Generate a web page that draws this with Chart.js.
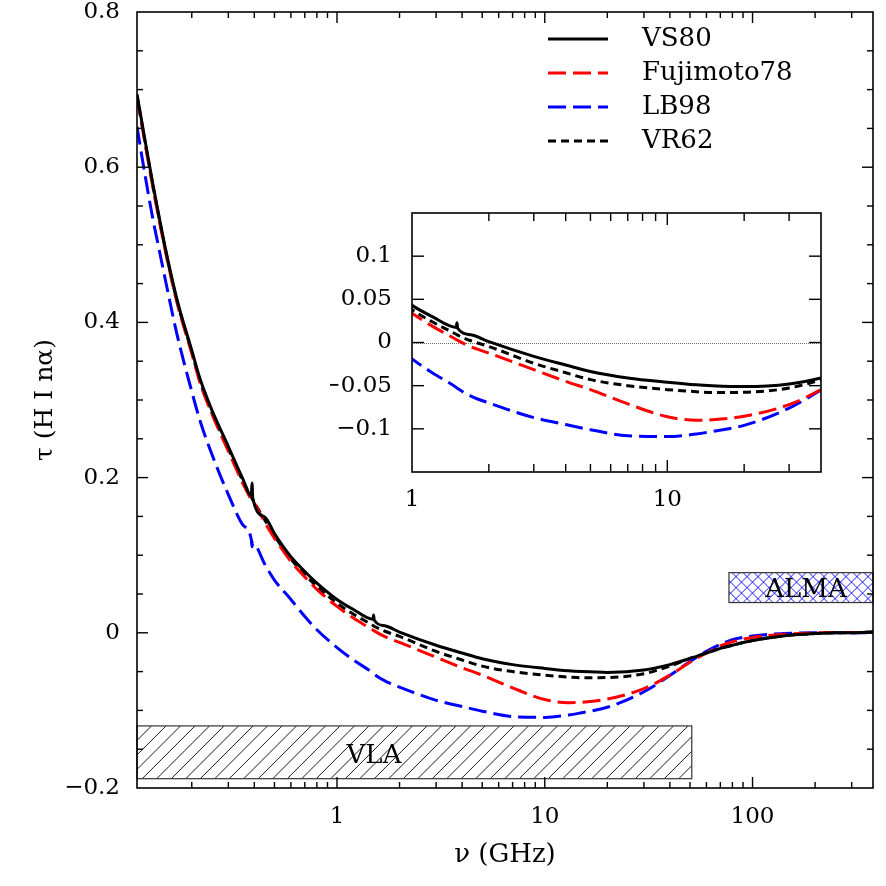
<!DOCTYPE html>
<html>
<head>
<meta charset="utf-8">
<script src="https://cdn.jsdelivr.net/npm/chart.js@4.4.1/dist/chart.umd.min.js"></script>
<style>
    body { margin: 0; background: #fff; }
    #wrap { position: relative; width: 886px; height: 886px; }
    #main { position: absolute; left: 0; top: 0; }
    #inset { position: absolute; left: 330px; top: 200px; }
</style>
</head>
<body>
<div id="wrap">
    <canvas id="main" width="886" height="886"></canvas>
    <canvas id="inset" width="500" height="320"></canvas>
</div>
<script>
// frequencies in GHz, shared by all curves
const freq = [0.109, 0.12, 0.13, 0.14, 0.15, 0.17, 0.2, 0.22, 0.25, 0.3,
    0.35, 0.387, 0.39, 0.393, 0.45, 0.5, 0.6, 0.7, 0.8, 1,
    1.2, 1.49, 1.5, 1.51, 1.7, 2, 3, 4, 5, 7,
    10, 13, 15, 20, 30, 40, 50, 60, 70, 80,
    100, 140, 200, 250, 300, 380];

const vs80 = [0.694, 0.630, 0.578, 0.533, 0.493, 0.429, 0.364, 0.326, 0.287, 0.240,
    0.200, 0.177, 0.193, 0.174, 0.149, 0.128, 0.098, 0.079, 0.064, 0.043,
    0.030, 0.0175, 0.023, 0.0165, 0.009, 0.001, -0.016, -0.026, -0.0335, -0.041,
    -0.046, -0.049, -0.050, -0.051, -0.048, -0.041, -0.033, -0.026, -0.020, -0.016,
    -0.010, -0.004, -0.001, 0, 0, 0.001];

const fujimoto78 = [0.690, 0.626, 0.574, 0.529, 0.489, 0.425, 0.360, 0.321, 0.282, 0.234,
    0.194, 0.1715, 0.170, 0.1695, 0.142, 0.122, 0.092, 0.072, 0.056, 0.034,
    0.019, 0.0035, 0.003, 0.0025, -0.005, -0.0123, -0.0315, -0.045, -0.0546, -0.071,
    -0.086, -0.090, -0.0895, -0.0854, -0.072, -0.0546, -0.038, -0.026, -0.017, -0.0116,
    -0.006, -0.002, 0, 0.0005, 0.0005, 0.0005];

const lb98 = [0.652, 0.585, 0.533, 0.491, 0.452, 0.384, 0.311, 0.272, 0.230, 0.178,
    0.140, 0.120, 0.111, 0.116, 0.088, 0.068, 0.043, 0.021, 0.004, -0.019,
    -0.035, -0.052, -0.0527, -0.0534, -0.062, -0.070, -0.087, -0.095, -0.101, -0.108,
    -0.109, -0.106, -0.103, -0.096, -0.076, -0.055, -0.037, -0.024, -0.015, -0.009,
    -0.004, -0.001, 0, 0, 0, 0];

const vr62 = [0.692, 0.628, 0.576, 0.531, 0.491, 0.427, 0.362, 0.323, 0.284, 0.237,
    0.197, 0.1745, 0.173, 0.1715, 0.145, 0.125, 0.095, 0.075, 0.060, 0.038,
    0.024, 0.0095, 0.009, 0.0085, 0.002, -0.0046, -0.024, -0.035, -0.043, -0.050,
    -0.0546, -0.057, -0.058, -0.0577, -0.0527, -0.043, -0.033, -0.026, -0.020, -0.016,
    -0.010, -0.004, -0.001, 0, 0, 0.001];

const seriesNames = ['VS80', 'Fujimoto78', 'LB98', 'VR62'];
const xMajorLabels = [1, 10, 100];

// observing bands: [freq from, freq to], [tau from, tau to]
const vlaFreq = [0.109, 51];
const vlaTau = [-0.188, -0.12];
const almaFreq = [77, 380];
const almaTau = [0.039, 0.0775];

const FONT = "'DejaVu Serif', serif";

function isPow10(v) {
    const l = Math.log10(v);
    return Math.abs(l - Math.round(l)) < 1e-6;
}

function minus(s) {
    return s.replace('-', '\u2212');
}

function logTicks(min, max) {
    const out = [];
    for (let e = -2; e <= 3; e++) {
        for (let m = 1; m <= 9; m++) {
            const v = +(m * Math.pow(10, e)).toPrecision(3);
            if (v >= min && v <= max) out.push({ value: v });
        }
    }
    return out;
}

function makeDatasets() {
    const pts = arr => freq.map((f, i) => ({ x: f, y: arr[i] }));
    return [
        { label: seriesNames[0], data: pts(vs80), borderColor: '#000', borderWidth: 3 },
        { label: seriesNames[1], data: pts(fujimoto78), borderColor: '#ff0000', borderWidth: 3, borderDash: [18, 7] },
        { label: seriesNames[2], data: pts(lb98), borderColor: '#0000ff', borderWidth: 3, borderDash: [18, 7] },
        { label: seriesNames[3], data: pts(vr62), borderColor: '#000', borderWidth: 3, borderDash: [8, 5] }
    ].map(d => Object.assign(d, { showLine: true, pointRadius: 0, cubicInterpolationMode: 'monotone', fill: false }));
}

// no extra room for end labels, plot box is set by hand
function fixBox(size, key) {
    return s => {
        s[key] = size;
        s.paddingTop = 0; s.paddingBottom = 0;
        s.paddingLeft = 0; s.paddingRight = 0;
    };
}

// box with ticks pointing inward on all four sides
const frameTicks = {
    id: 'frameTicks',
    afterDraw(chart) {
        const opts = chart.options.plugins.frameTicks || {};
        const major = opts.major || 11, minor = opts.minor || 6;
        const { ctx, chartArea: a, scales } = chart;
        const x = scales.x, y = scales.y;
        const w = 1.4;
        ctx.save();
        ctx.fillStyle = '#000';
        x.ticks.forEach(t => {
            const px = x.getPixelForValue(t.value);
            if (!(px > a.left + 1 && px < a.right - 1)) return;
            const len = isPow10(t.value) ? major : minor;
            ctx.fillRect(px - w / 2, a.bottom - len, w, len);
            ctx.fillRect(px - w / 2, a.top, w, len);
        });
        y.ticks.forEach(t => {
            const py = y.getPixelForValue(t.value);
            if (!(py > a.top + 1 && py < a.bottom - 1)) return;
            const len = t.label ? major : minor;
            ctx.fillRect(a.left, py - w / 2, len, w);
            ctx.fillRect(a.right - len, py - w / 2, len, w);
        });
        ctx.strokeStyle = '#000';
        ctx.lineWidth = 1.6;
        ctx.strokeRect(a.left, a.top, a.right - a.left, a.bottom - a.top);
        ctx.restore();
    }
};

function hatch(ctx, x0, y0, x1, y1, step, dirs) {
    const h = y1 - y0;
    ctx.save();
    ctx.beginPath();
    ctx.rect(x0, y0, x1 - x0, h);
    ctx.clip();
    ctx.beginPath();
    for (let x = x0 - h; x < x1 + h; x += step) {
        if (dirs.includes('/')) { ctx.moveTo(x, y1); ctx.lineTo(x + h, y0); }
        if (dirs.includes('\\')) { ctx.moveTo(x, y0); ctx.lineTo(x + h, y1); }
    }
    ctx.stroke();
    ctx.restore();
}

const bands = {
    id: 'bands',
    beforeDatasetsDraw(chart) {
        const { ctx, scales: { x, y } } = chart;
        const boxes = [
            { f: vlaFreq, t: vlaTau, color: '#000', dirs: '/', step: 14.5 },
            { f: almaFreq, t: almaTau, color: '#0000ff', dirs: '/\\', step: 11 }
        ];
        ctx.save();
        boxes.forEach(b => {
            const x0 = x.getPixelForValue(b.f[0]), x1 = x.getPixelForValue(b.f[1]);
            const y0 = y.getPixelForValue(b.t[1]), y1 = y.getPixelForValue(b.t[0]);
            ctx.strokeStyle = b.color;
            ctx.lineWidth = 0.9;
            hatch(ctx, x0, y0, x1, y1, b.step, b.dirs);
            ctx.strokeStyle = '#333';
            ctx.lineWidth = 1.2;
            ctx.strokeRect(x0, y0, x1 - x0, y1 - y0);
        });
        ctx.fillStyle = '#000';
        ctx.font = '26px ' + FONT;
        ctx.textAlign = 'center';
        ctx.textBaseline = 'middle';
        ctx.fillText('VLA', 374, 756);
        ctx.fillText('ALMA', 806, 590);
        ctx.restore();
    }
};

const legendBox = {
    id: 'legendBox',
    afterDraw(chart) {
        const { ctx } = chart;
        ctx.save();
        ctx.font = '26px ' + FONT;
        ctx.textBaseline = 'middle';
        ctx.fillStyle = '#000';
        chart.data.datasets.forEach((d, i) => {
            const yy = 39 + i * 34;
            ctx.strokeStyle = d.borderColor;
            ctx.lineWidth = 3;
            ctx.setLineDash(d.borderDash || []);
            ctx.beginPath();
            ctx.moveTo(548, yy);
            ctx.lineTo(608, yy);
            ctx.stroke();
            ctx.setLineDash([]);
            ctx.fillText(d.label, 642, yy);
        });
        ctx.restore();
    }
};

const zeroLine = {
    id: 'zeroLine',
    beforeDatasetsDraw(chart) {
        const { ctx, chartArea: a, scales: { y } } = chart;
        const py = Math.round(y.getPixelForValue(0)) + 0.5;
        ctx.save();
        ctx.strokeStyle = '#444';
        ctx.lineWidth = 0.8;
        ctx.setLineDash([1, 1]);
        ctx.beginPath();
        ctx.moveTo(a.left, py);
        ctx.lineTo(a.right, py);
        ctx.stroke();
        ctx.restore();
    }
};

Chart.defaults.font.family = FONT;
Chart.defaults.color = '#000';

// main chart
new Chart(document.getElementById('main'), {
    type: 'scatter',
    data: { datasets: makeDatasets() },
    options: {
        responsive: false,
        animation: false,
        layout: { padding: { left: 0, right: 13, top: 12, bottom: 0 } },
        plugins: {
            legend: { display: false },
            tooltip: { enabled: false },
            frameTicks: { major: 11, minor: 6 }
        },
        scales: {
            x: {
                type: 'logarithmic',
                min: 0.109,
                max: 380,
                afterBuildTicks: s => { s.ticks = logTicks(0.109, 380); },
                afterFit: fixBox(98, 'height'),
                grid: { display: false },
                border: { display: false },
                ticks: {
                    autoSkip: false,
                    maxRotation: 0,
                    padding: 7,
                    font: { size: 23 },
                    callback: v => xMajorLabels.includes(v) ? String(v) : ''
                },
                title: { display: true, text: '\u03bd (GHz)', font: { size: 26 }, padding: { top: 0, bottom: 15 } }
            },
            y: {
                min: -0.2,
                max: 0.8,
                afterFit: fixBox(137, 'width'),
                grid: { display: false },
                border: { display: false },
                ticks: {
                    stepSize: 0.05,
                    padding: 9,
                    font: { size: 23 },
                    callback: v => {
                        const k = v / 0.2;
                        if (Math.abs(k - Math.round(k)) > 1e-6) return '';
                        return minus(String(+v.toFixed(1)));
                    }
                },
                title: { display: true, text: '\u03c4 (H I n\u03b1)', font: { size: 25 }, padding: { top: 30, bottom: 0 } }
            }
        }
    },
    plugins: [bands, frameTicks, legendBox]
});

// inset zoom on 1-40 GHz
new Chart(document.getElementById('inset'), {
    type: 'scatter',
    data: { datasets: makeDatasets() },
    options: {
        responsive: false,
        animation: false,
        layout: { padding: { left: 0, right: 9, top: 13, bottom: 0 } },
        plugins: {
            legend: { display: false },
            tooltip: { enabled: false },
            frameTicks: { major: 12, minor: 8 }
        },
        scales: {
            x: {
                type: 'logarithmic',
                min: 1,
                max: 40,
                afterBuildTicks: s => { s.ticks = logTicks(1, 40); },
                afterFit: fixBox(48, 'height'),
                grid: { display: false },
                border: { display: false },
                ticks: {
                    autoSkip: false,
                    maxRotation: 0,
                    padding: 6,
                    font: { size: 23 },
                    callback: v => xMajorLabels.includes(v) ? String(v) : ''
                }
            },
            y: {
                min: -0.15,
                max: 0.15,
                afterFit: fixBox(82, 'width'),
                grid: { display: false },
                border: { display: false },
                ticks: {
                    stepSize: 0.025,
                    padding: 12,
                    font: { size: 23 },
                    callback: v => {
                        const k = v / 0.05;
                        if (Math.abs(k - Math.round(k)) > 1e-6 || Math.abs(v) > 0.12) return '';
                        return minus(String(+v.toFixed(3)));
                    }
                }
            }
        }
    },
    plugins: [zeroLine, frameTicks]
});
</script>
</body>
</html>
